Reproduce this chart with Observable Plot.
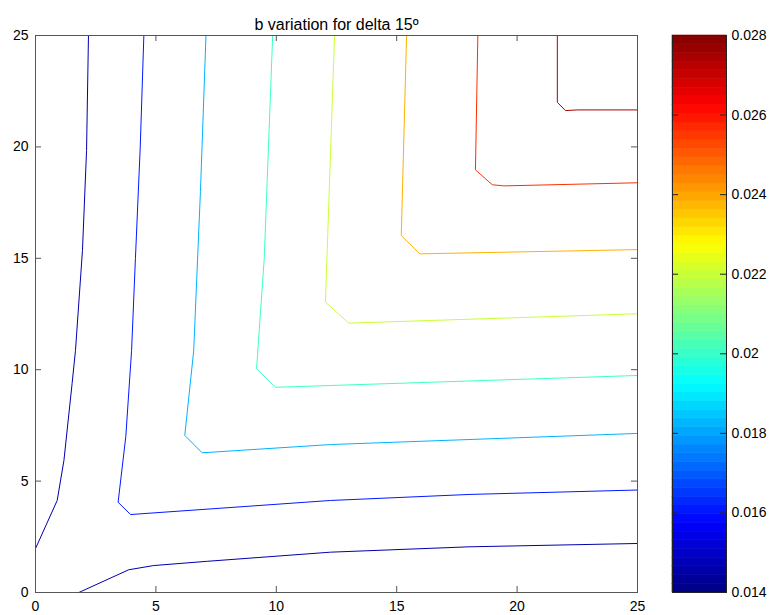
<!DOCTYPE html>
<html><head><meta charset="utf-8">
<script src="https://cdn.jsdelivr.net/npm/d3@7"></script>
<script src="https://cdn.jsdelivr.net/npm/@observablehq/plot@0.6"></script>
<style>
body{margin:0;background:#fff;}
#wrap{position:relative;width:774px;height:615px;background:#fff;}
#wrap svg{position:absolute;top:0;}
</style></head><body><div id="wrap"></div>
<script>
const title = "b variation for delta 15º";
const xTicks = [0, 5, 10, 15, 20, 25];
const yTicks = [0, 5, 10, 15, 20, 25];
const cbTicks = [0.014, 0.016, 0.018, 0.020, 0.022, 0.024, 0.026, 0.028];
const cbLabels = ["0.014", "0.016", "0.018", "0.02", "0.022", "0.024", "0.026", "0.028"];
const cLim = [0.014, 0.028];

// contour levels (one per line below)
const levels = [0.0146, 0.0146, 0.0161, 0.0182, 0.0201, 0.0220, 0.0238, 0.0256, 0.0274];

// contour polylines
const c1aX = [0, 0.9, 1.18, 1.52, 1.66, 1.95, 2.12, 2.2];
const c1aY = [1.97, 4.13, 5.92, 9.38, 10.86, 15.35, 19.84, 25];
const c1bX = [1.8, 3.87, 4.91, 7.13, 12.25, 18, 25];
const c1bY = [0, 1.02, 1.21, 1.40, 1.81, 2.05, 2.2];
const c2X = [4.5, 4.35, 4.15, 3.99, 3.75, 3.43, 3.95, 12.25, 18, 25];
const c2Y = [25, 20, 15, 10.86, 7, 4.05, 3.5, 4.13, 4.4, 4.6];
const c3X = [7.08, 6.85, 6.57, 6.2, 6.92, 12.25, 25];
const c3Y = [25, 18, 10.86, 7.05, 6.27, 6.64, 7.14];
const c4X = [9.85, 9.5, 9.18, 9.97, 12.25, 25];
const c4Y = [25, 15, 10.04, 9.21, 9.29, 9.74];
const c5X = [12.42, 12.04, 13.01, 25];
const c5Y = [25, 13.03, 12.09, 12.51];
const c6X = [15.41, 15.19, 15.96, 25];
const c6Y = [25, 16.02, 15.2, 15.39];
const c7X = [18.37, 18.27, 18.97, 19.45, 25];
const c7Y = [25, 18.97, 18.3, 18.25, 18.39];
const c8X = [21.67, 21.67, 22.01, 22.5, 25];
const c8Y = [25, 22.0, 21.63, 21.66, 21.66];

const lineXs = [c1aX, c1bX, c2X, c3X, c4X, c5X, c6X, c7X, c8X];
const lineYs = [c1aY, c1bY, c2Y, c3Y, c4Y, c5Y, c6Y, c7Y, c8Y];

const rows = [];
lineXs.forEach((xs, k) => xs.forEach((x, i) => rows.push({id: k, x, y: lineYs[k][i], level: levels[k]})));

// MATLAB "jet" colormap stops
const span = cLim[1] - cLim[0];
const jetDomain = [0, 1/8, 3/8, 5/8, 7/8, 1].map(t => cLim[0] + t * span);
const jetRange = ["#000080", "#0000ff", "#00ffff", "#ffff00", "#ff0000", "#800000"];
const colorScale = {type: "linear", domain: jetDomain, range: jetRange, interpolate: "rgb"};

const font = "'Liberation Sans', Arial, Helvetica, sans-serif";
const W = 774, H = 615, mL = 35, mR = 137, mT = 35, mB = 23;
const fw = W - mL - mR, fh = H - mT - mB;
const tk = 6, axisColor = "#555";

const main = Plot.plot({
  width: W, height: H,
  marginLeft: mL, marginRight: mR, marginTop: mT, marginBottom: mB,
  x: {domain: [0, 25]},
  y: {domain: [0, 25]},
  color: colorScale,
  style: {fontFamily: font, fontSize: "14px", background: "transparent", color: "#000"},
  marks: [
    Plot.line(rows, {x: "x", y: "y", z: "id", stroke: "level", strokeWidth: 1}),
    Plot.frame({stroke: axisColor}),
    Plot.tickX(xTicks, {x: d => d, insetTop: fh - tk, stroke: axisColor}),
    Plot.tickX(xTicks, {x: d => d, insetBottom: fh - tk, stroke: axisColor}),
    Plot.tickY(yTicks, {y: d => d, insetRight: fw - tk, stroke: axisColor}),
    Plot.tickY(yTicks, {y: d => d, insetLeft: fw - tk, stroke: axisColor}),
    Plot.axisX(xTicks, {tickSize: 0, tickPadding: 9, label: null, fill: "#000"}),
    Plot.axisY(yTicks, {tickSize: 0, tickPadding: 7, label: null, fill: "#000"}),
    Plot.text([title], {frameAnchor: "top", dy: -17, fontSize: 16, fill: "#000"})
  ]
});

// colorbar
const nBands = 64;
const bands = d3.range(nBands).map(i => ({
  lo: cLim[0] + i * span / nBands,
  hi: cLim[0] + (i + 1) * span / nBands,
  mid: cLim[0] + (i + 0.5) * span / nBands
}));
const cbW = 134, cbL = 32, cbR = 48, cbfw = cbW - cbL - cbR;
const cb = Plot.plot({
  width: cbW, height: H,
  marginLeft: cbL, marginRight: cbR, marginTop: mT, marginBottom: mB,
  x: {domain: [0, 1], axis: null},
  y: {domain: cLim},
  color: colorScale,
  style: {fontFamily: font, fontSize: "14px", background: "transparent", color: "#000"},
  marks: [
    Plot.rect(bands, {x1: 0, x2: 1, y1: "lo", y2: "hi", fill: "mid", stroke: "mid", strokeWidth: 0.6}),
    Plot.frame({stroke: "#222"}),
    Plot.tickY(cbTicks, {y: d => d, insetRight: cbfw - tk, stroke: "#222"}),
    Plot.tickY(cbTicks, {y: d => d, insetLeft: cbfw - tk, stroke: "#222"}),
    Plot.axisY(cbTicks, {anchor: "right", tickSize: 0, tickPadding: 5, label: null, fill: "#000",
      tickFormat: d => cbLabels[cbTicks.indexOf(d)]})
  ]
});
cb.style.left = "640px";

const wrap = document.getElementById("wrap");
main.style.left = "0px";
wrap.appendChild(main);
wrap.appendChild(cb);
</script>
</body></html>
